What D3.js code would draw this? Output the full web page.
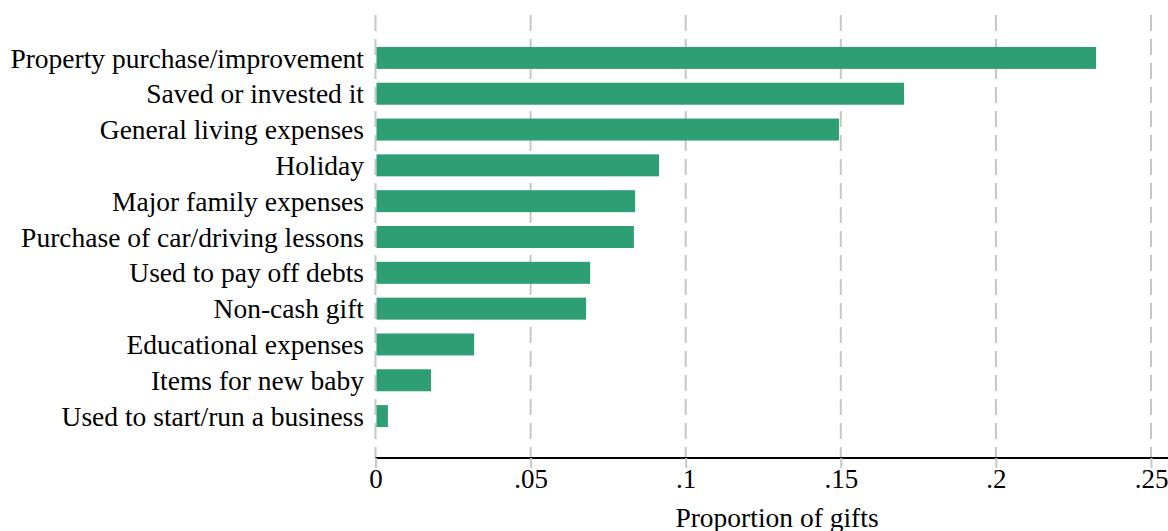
<!DOCTYPE html>
<html>
<head>
<meta charset="utf-8">
<script src="https://cdn.jsdelivr.net/npm/d3@7"></script>
<style>
  body { margin: 0; background: #fff; }
  text { font-family: "Liberation Serif", "Times New Roman", serif; fill: #000; }
</style>
</head>
<body>
<div id="chart"></div>
<script>
(function () {

  // Data

  var categories = [
    "Property purchase/improvement",
    "Saved or invested it",
    "General living expenses",
    "Holiday",
    "Major family expenses",
    "Purchase of car/driving lessons",
    "Used to pay off debts",
    "Non-cash gift",
    "Educational expenses",
    "Items for new baby",
    "Used to start/run a business"
  ]

  var proportions = [0.2323, 0.1704, 0.1494, 0.0914, 0.0837, 0.0833, 0.0692, 0.0679, 0.0318, 0.0179, 0.0040]

  var tickValues = [0, 0.05, 0.1, 0.15, 0.2, 0.25]
  var tickLabels = ["0", ".05", ".1", ".15", ".2", ".25"]

  // SVG

  var width = 1168, height = 531

  var svg = d3.select("#chart").append("svg")
      .attr("width", width)
      .attr("height", height)

  var plotTop = 15, plotBottom = 458

  // Scales

  var xScale = d3.scaleLinear()
    .domain([0, 0.25])
    .range([375.5, 1151])

  var yScale = d3.scaleBand()
    .domain(categories)
    .range([40, 434])
    .paddingInner(0.386)
    .paddingOuter(0.193)

  // Gridlines

  svg.selectAll(".grid")
    .data(tickValues)
    .enter().append("line")
    .attr("class", "grid")
    .attr("x1", function(d){ return xScale(d) })
    .attr("x2", function(d){ return xScale(d) })
    .attr("y1", plotTop)
    .attr("y2", plotBottom)
    .attr("stroke", "#c6c6c6")
    .attr("stroke-width", 2)
    .attr("stroke-dasharray", "16,8")

  // Bars

  svg.selectAll(".bar")
    .data(proportions)
    .enter().append("rect")
    .attr("class", "bar")
    .attr("x", xScale(0) + 1)
    .attr("y", function(d, i){ return yScale(categories[i]) })
    .attr("width", function(d){ return xScale(d) - xScale(0) - 1 })
    .attr("height", yScale.bandwidth())
    .attr("fill", "#2e9e74")

  // Category labels

  svg.selectAll(".label")
    .data(categories)
    .enter().append("text")
    .attr("class", "label")
    .attr("x", 364)
    .attr("y", function(d){ return yScale(d) + yScale.bandwidth() / 2 })
    .attr("dy", "0.35em")
    .attr("text-anchor", "end")
    .style("font-size", "27.5px")
    .text(function(d){ return d })

  // X axis

  var xAxis = d3.axisBottom(xScale)
    .tickValues(tickValues)
    .tickFormat(function(d, i){ return tickLabels[i] })
    .tickSize(10)

  var axisG = svg.append("g")
    .attr("transform", "translate(0," + plotBottom + ")")
    .call(xAxis)

  axisG.select(".domain")
    .attr("d", "M" + xScale(0) + ",0H" + width)
    .attr("stroke", "#000")
    .attr("stroke-width", 2)

  axisG.selectAll(".tick line")
    .attr("stroke", "#c6c6c6")
    .attr("stroke-width", 2)

  axisG.selectAll(".tick text")
    .attr("y", 30)
    .attr("dy", null)
    .attr("fill", "#000")
    .style("font-size", "27px")
    .style("font-family", "'Liberation Serif', 'Times New Roman', serif")

  svg.append("text")
    .attr("x", 777)
    .attr("y", 527)
    .attr("text-anchor", "middle")
    .style("font-size", "27.5px")
    .text("Proportion of gifts")

})()
</script>
</body>
</html>
